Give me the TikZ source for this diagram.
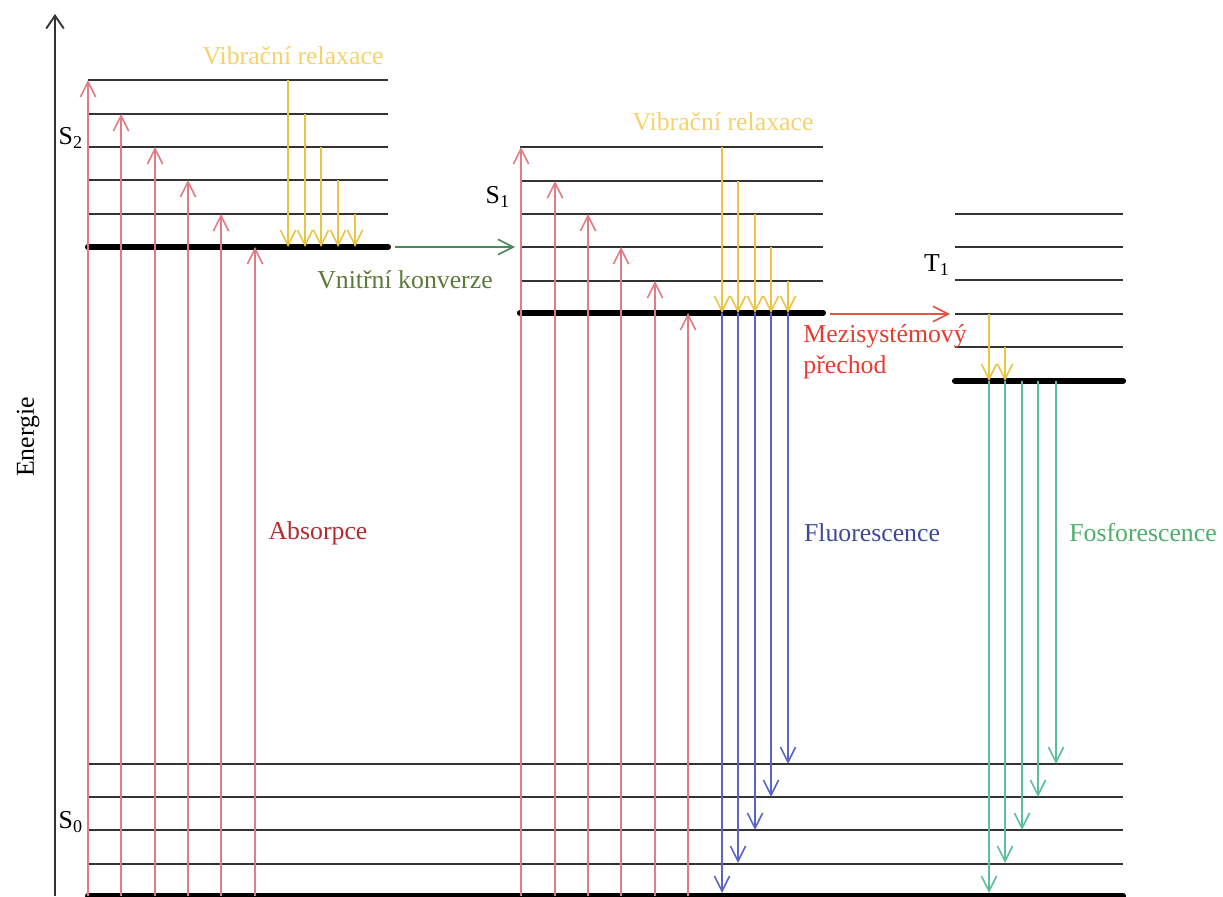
\documentclass[tikz,border=0pt]{standalone}
\usepackage{fontspec}
\setmainfont{Liberation Serif}
\usepackage{tikz}
\usetikzlibrary{arrows.meta}
\usepackage{xcolor}
\definecolor{absarrow}{HTML}{E07C84}
\definecolor{abstext}{HTML}{B8282C}
\definecolor{vrarrow}{HTML}{EBC443}
\definecolor{vrtext}{HTML}{F5D26A}
\definecolor{flarrow}{HTML}{5A64C8}
\definecolor{fltext}{HTML}{3D4A9A}
\definecolor{pharrow}{HTML}{5DBF9A}
\definecolor{phtext}{HTML}{4CAF6A}
\definecolor{icarrow}{HTML}{4A8A5A}
\definecolor{ictext}{HTML}{5A7A3A}
\definecolor{iscarrow}{HTML}{E05545}
\definecolor{isctext}{HTML}{E83A30}

\begin{document}
\begin{tikzpicture}[
		x=0.015cm, y=-0.015cm,  % one unit = one pixel of the sketch
		level/.style={draw=black!80, line width=0.8pt},
		ground/.style={draw=black, line width=2.6pt, line cap=round},
		trans/.style={line width=0.7pt, -{Straight Barb[length=6.5pt,width=6.5pt]}},
		lbl/.style={font=\fontsize{11}{13}\selectfont, inner sep=0pt}
		]
		\useasboundingbox (0,0) rectangle (1223,896);
		% energy axis
		\draw[draw=black!80, line width=0.8pt, -{Straight Barb[length=5.5pt,width=7.5pt]}] (55,896) -- (55,14);
		\node[lbl, rotate=90] (energie) at (28,437) {Energie};
		% levels S2, S1, T1, S0
		\foreach \y in {80,114,147,180,214} \draw[level] (88,\y) -- (388,\y);
		\draw[ground] (88,247) -- (388,247);
		\foreach \y in {147,181,214,247,281} \draw[level] (520,\y) -- (823,\y);
		\draw[ground] (520,313) -- (823,313);
		\foreach \y in {214,247,280,314,347} \draw[level] (955,\y) -- (1123,\y);
		\draw[ground] (955,381) -- (1123,381);
		\foreach \y in {764,797,830,864} \draw[level] (88,\y) -- (1123,\y);
		\draw[ground] (88,896) -- (1123,896);
		\node[lbl] (s2) at (71,138) {S\textsubscript{2}};
		\node[lbl] (s1) at (498,197) {S\textsubscript{1}};
		\node[lbl] (t1) at (937,265) {T\textsubscript{1}};
		\node[lbl] (s0) at (71,822) {S\textsubscript{0}};
		% absorption
		\foreach \x/\y in {88/80,121/114,155/147,188/180,221/214,255/247,521/147,555/181,588/214,621/247,655/281,688/313}
			\draw[trans, absarrow] (\x,896) -- (\x,\y);
		\node[lbl, text=abstext] (absorpce) at (318,533) {Absorpce};
		% vibrational relaxation
		\foreach \x/\y in {288/80,305/114,321/147,338/180,355/214} \draw[trans, vrarrow] (\x,\y) -- (\x,247);
		\foreach \x/\y in {722/147,738/181,755/214,771/247,788/281} \draw[trans, vrarrow] (\x,\y) -- (\x,313);
		\foreach \x/\y in {989/314,1005/347} \draw[trans, vrarrow] (\x,\y) -- (\x,381);
		\node[lbl, text=vrtext] (vr2) at (293,56) {Vibrační relaxace};
		\node[lbl, text=vrtext] (vr1) at (723,122) {Vibrační relaxace};
		% internal conversion and intersystem crossing
		\draw[trans, icarrow] (395,247) -- (515,247);
		\node[lbl, text=ictext] (ic) at (405,280) {Vnitřní konverze};
		\draw[trans, iscarrow] (830,314) -- (950,314);
		\node[lbl, text=isctext, align=left, anchor=west] (isc) at (803,352) {Mezisystémový\\přechod};
		% fluorescence and phosphorescence
		\foreach \x/\y in {722/893,738/863,755/830,771/797,788/764} \draw[trans, flarrow] (\x,313) -- (\x,\y);
		\node[lbl, text=fltext] (fluor) at (872,533) {Fluorescence};
		\foreach \x/\y in {989/893,1005/863,1022/830,1038/797,1056/764} \draw[trans, pharrow] (\x,381) -- (\x,\y);
		\node[lbl, text=phtext] (phos) at (1143,533) {Fosforescence};
	\end{tikzpicture}
\end{document}
